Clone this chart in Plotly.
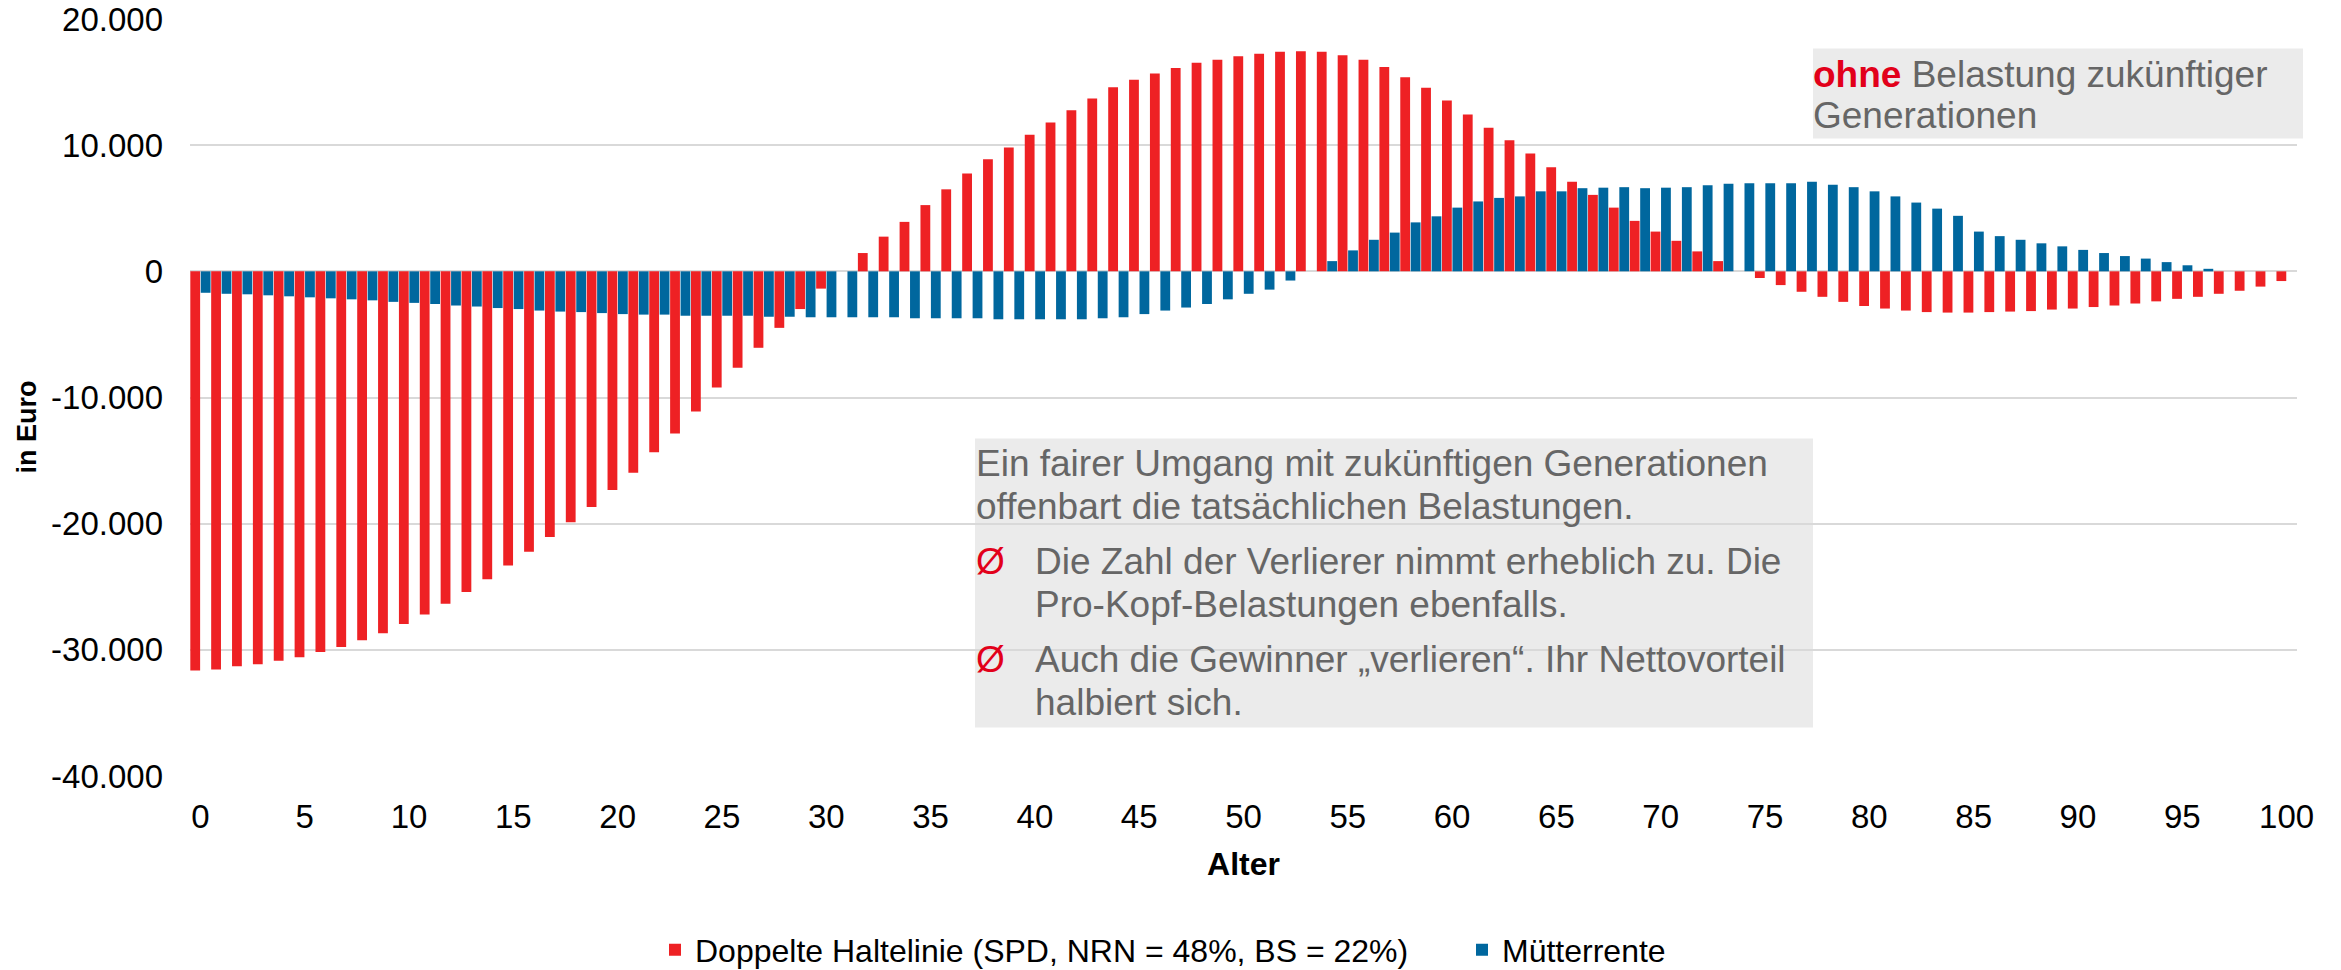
import plotly.graph_objects as go

ages = list(range(0, 101))

haltelinie = [
    -31640, -31560, -31310, -31150, -30870, -30590, -30180, -29780, -29250, -28690,
    -27960, -27190, -26340, -25410, -24400, -23310, -22220, -21050, -19880, -18670,
    -17330, -15960, -14340, -12850, -11110, -9210, -7640, -6060, -4480, -2990,
    -1370, 0, 1450, 2750, 3920, 5250, 6500, 7760, 8890, 9820,
    10830, 11800, 12770, 13700, 14590, 15190, 15680, 16120, 16530, 16770,
    17050, 17250, 17410, 17450, 17410, 17130, 16770, 16200, 15390, 14550,
    13540, 12440, 11390, 10380, 9330, 8240, 7110, 6060, 5050, 4000,
    3150, 2420, 1580, 810, 0, -530, -1090, -1620, -2020, -2420,
    -2750, -2950, -3110, -3230, -3270, -3270, -3230, -3190, -3150, -3030,
    -2950, -2830, -2710, -2550, -2380, -2180, -2020, -1780, -1540, -1210,
    -770,
]

muetterrente = [
    -1700, -1780, -1820, -1900, -1980, -2060, -2140, -2220, -2300, -2420,
    -2500, -2590, -2710, -2790, -2910, -2990, -3110, -3190, -3230, -3310,
    -3390, -3430, -3430, -3520, -3520, -3520, -3520, -3600, -3600, -3640,
    -3640, -3640, -3640, -3640, -3720, -3720, -3720, -3720, -3800, -3800,
    -3800, -3800, -3800, -3720, -3640, -3390, -3110, -2870, -2590, -2220,
    -1780, -1450, -730, 0, 810, 1660, 2500, 3070, 3880, 4360,
    5050, 5540, 5820, 5940, 6340, 6340, 6590, 6630, 6670, 6590,
    6630, 6670, 6830, 6950, 6990, 6990, 6990, 7110, 6870, 6670,
    6340, 5940, 5450, 4970, 4400, 3150, 2790, 2500, 2220, 1980,
    1700, 1450, 1210, 1010, 730, 480, 200, 0, 0, 0,
    0,
]

x_tickvals = list(range(0, 101, 5))
x_ticktext = [str(v) for v in x_tickvals]
y_tickvals = [-40000, -30000, -20000, -10000, 0, 10000, 20000]
y_ticktext = ["-40.000", "-30.000", "-20.000", "-10.000", "0", "10.000", "20.000"]

name_red = "Doppelte Haltelinie (SPD, NRN = 48%, BS = 22%)"
name_blue = "Mütterrente"

RED = "#EE2124"
BLUE = "#00679E"
SIGNAL = "#E2001A"
GRAYTXT = "#666666"
BOXBG = "#EBEBEB"
FONT = "Liberation Sans, Arial, sans-serif"

# figure size (page has an 8px body margin)
OFF = 8
W, H = 2341, 970
# plot area in page pixels
PL, PR, PT, PB = 190, 2297, 19.4, 776.5
L = PL - OFF
R = W - (PR - OFF)
T = PT - OFF
B = H - (PB - OFF)


def px_x(xp):
    return (xp - PL) / (PR - PL)


def px_y(yp):
    return (PB - yp) / (PB - PT)


def cx(xp):
    return (xp - OFF) / W


def cy(yp):
    return 1 - (yp - OFF) / H


fig = go.Figure()
fig.add_trace(go.Bar(x=ages, y=haltelinie, name=name_red, legend="legend",
                     marker=dict(color=RED, line=dict(width=0))))
fig.add_trace(go.Bar(x=ages, y=muetterrente, name=name_blue, legend="legend2",
                     marker=dict(color=BLUE, line=dict(width=0))))

shapes = [
    dict(type="rect", xref="paper", yref="paper", layer="below",
         x0=px_x(975), x1=px_x(1813), y0=px_y(728), y1=px_y(439),
         fillcolor=BOXBG, line=dict(width=0)),
    dict(type="rect", xref="paper", yref="paper", layer="below",
         x0=px_x(1813), x1=px_x(2303), y0=px_y(139), y1=px_y(49),
         fillcolor=BOXBG, line=dict(width=0)),
]

FS = 37


def line_ann(text, x, baseline, color=GRAYTXT, size=FS):
    return dict(text=text, xref="paper", yref="paper", x=px_x(x), y=px_y(baseline - 0.32 * size),
                xanchor="left", yanchor="middle", showarrow=False,
                font=dict(family=FONT, size=size, color=color), borderpad=0)


annotations = [
    line_ann("<b><span style='color:%s'>ohne</span></b> Belastung zukünftiger" % SIGNAL, 1812, 87),
    line_ann("Generationen", 1812, 128),
    line_ann("Ein fairer Umgang mit zukünftigen Generationen", 975, 476),
    line_ann("offenbart die tatsächlichen Belastungen.", 975, 519),
    line_ann("Ø", 975, 574, color=SIGNAL),
    line_ann("Die Zahl der Verlierer nimmt erheblich zu. Die", 1034, 574),
    line_ann("Pro-Kopf-Belastungen ebenfalls.", 1034, 617),
    line_ann("Ø", 975, 672, color=SIGNAL),
    line_ann("Auch die Gewinner „verlieren“. Ihr Nettovorteil", 1034, 672),
    line_ann("halbiert sich.", 1034, 715),
    # y-axis title
    dict(text="<b>in Euro</b>", xref="paper", yref="paper", x=px_x(27), y=px_y(428),
         xanchor="center", yanchor="middle", textangle=-90, showarrow=False,
         font=dict(family=FONT, size=27, color="black")),
]

legend_common = dict(orientation="h", xref="container", yref="container",
                     xanchor="left", yanchor="middle", y=cy(950),
                     font=dict(family=FONT, size=32, color="black"),
                     bgcolor="rgba(0,0,0,0)", borderwidth=0)

fig.update_layout(
    width=W, height=H,
    margin=dict(l=L, r=R, t=T, b=B, pad=0, autoexpand=False),
    paper_bgcolor="white", plot_bgcolor="white",
    font=dict(family=FONT, size=33, color="black"),
    barmode="group", bargap=0.0, bargroupgap=0.06,
    shapes=shapes, annotations=annotations,
    showlegend=True,
    legend=dict(x=cx(655), **legend_common),
    legend2=dict(x=cx(1462), **legend_common),
    xaxis=dict(range=[-0.5, 100.5], tickmode="array", tickvals=x_tickvals, ticktext=x_ticktext,
               showgrid=False, zeroline=False, showline=False, ticks="",
               ticklabelstandoff=18, automargin=False, ticklabeloverflow="allow",
               tickfont=dict(family=FONT, size=33, color="black"),
               title=dict(text="<b>Alter</b>", font=dict(family=FONT, size=32, color="black"), standoff=18)),
    yaxis=dict(range=[-40000, 20000], tickmode="array", tickvals=y_tickvals, ticktext=y_ticktext,
               showgrid=True, gridcolor="#D9D9D9", gridwidth=2,
               zeroline=True, zerolinecolor="#D9D9D9", zerolinewidth=2,
               showline=False, ticks="", ticklabelstandoff=26, automargin=False,
               ticklabeloverflow="allow",
               tickfont=dict(family=FONT, size=33, color="black")),
)

fig.write_html("out.html")
